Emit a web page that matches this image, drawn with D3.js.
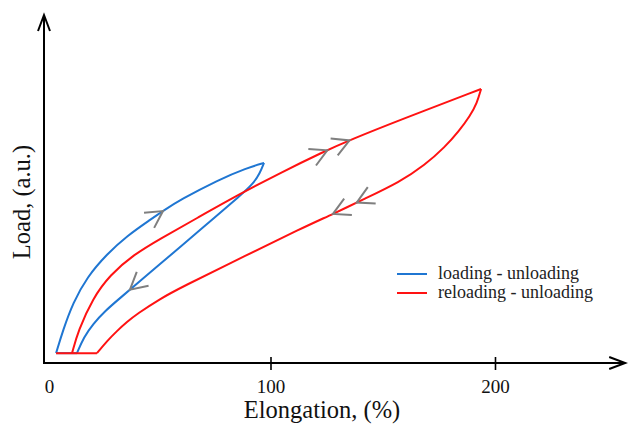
<!DOCTYPE html>
<meta charset="utf-8">
<style>

body {
  margin: 0;
  background: #fff;
}

svg {
  display: block;
}

.axis-line,
.axis-head {
  fill: none;
  stroke: #000;
  stroke-width: 2;
}

.x.axis path {
  display: none;
}

.x.axis line {
  stroke: #000;
  stroke-width: 1.6;
}

.x.axis text {
  font-family: "Liberation Serif", serif;
  font-size: 19px;
  fill: #111;
}

.title {
  font-family: "Liberation Serif", serif;
  font-size: 24.5px;
  fill: #111;
}

.legend text {
  font-family: "Liberation Serif", serif;
  font-size: 18px;
  fill: #222;
}

.curve {
  fill: none;
  stroke-width: 2;
  stroke-linejoin: round;
}

.arrow {
  fill: none;
  stroke: #7f7f7f;
  stroke-width: 2;
}

</style>
<body>
<script src="https://d3js.org/d3.v7.min.js"></script>
<script>

// elongation (%) , load (a.u.)
var blueLoading = [[4.5, 3.6], [7.6, 12.0], [12.0, 21.9], [18.3, 31.4], [27.2, 39.8], [36.1, 46.4],
  [46.3, 52.2], [52.1, 55.5], [59.7, 59.5], [76.6, 66.8], [89.5, 71.2], [97.1, 73.0]];
var blueUnloading = [[97.1, 73.0], [95.3, 69.3], [92.2, 65.3], [86.4, 61.0], [74.4, 52.6], [59.7, 42.3],
  [50.8, 36.1], [41.9, 29.9], [33.0, 23.7], [26.3, 19.0], [20.9, 14.2], [16.9, 9.5], [13.8, 3.6]];
var blueBase = [[13.8, 3.6], [4.5, 3.6]];

var redReloading = [[11.6, 3.6], [14.3, 11.7], [20.9, 23.7], [28.5, 32.1], [38.8, 39.4], [50.8, 45.3],
  [67.3, 52.9], [86.4, 61.7], [104.2, 69.3], [123.4, 77.0], [135.4, 81.4], [157.7, 88.7], [193.8, 100]];
var redUnloading = [[193.8, 100], [192.0, 94.9], [188.9, 90.2], [184.0, 84.7], [177.7, 78.8], [168.8, 72.3],
  [157.7, 66.1], [140.8, 59.5], [128.7, 54.7], [113.1, 48.9], [89.5, 39.4], [59.7, 27.4], [50.8, 23.4],
  [40.5, 17.9], [36.1, 15.0], [31.6, 11.7], [27.2, 8.0], [22.7, 3.6]];
var redBase = [[4.5, 3.6], [22.7, 3.6]];

// where the grey direction arrows sit (elongation of the tip)
var blueLoadArrows = [52.1];
var blueUnloadArrows = [37.4];
var redLoadArrows = [125.3, 135.2];
var redUnloadArrows = [138.4, 127.8];

var xTicks = [0, 100, 200];
var seriesNames = ["loading - unloading", "reloading - unloading"];
var seriesColors = ["#1f76d2", "#ff1212"];

var width = 628, height = 424;

var svg = d3.select("body").append("svg")
    .attr("width", width)
    .attr("height", height);

var x = d3.scaleLinear().domain([0, 258]).range([46, 625.2]);
var y = d3.scaleLinear().domain([0, 127]).range([363, 15]);

// axes with open arrow heads
var x0 = x(0) - 2, yBase = y(0), xEnd = x.range()[1], yTop = y.range()[1];
svg.append("path")
    .attr("class", "axis-line")
    .attr("d", "M" + x0 + "," + yTop + "V" + yBase + "H" + xEnd);
svg.append("path")
    .attr("class", "axis-head")
    .attr("d", "M" + (x0 - 6) + "," + (yTop + 16) + "L" + x0 + "," + yTop + "L" + (x0 + 6) + "," + (yTop + 16));
svg.append("path")
    .attr("class", "axis-head")
    .attr("d", "M" + (xEnd - 16) + "," + (yBase - 6) + "L" + xEnd + "," + yBase + "L" + (xEnd - 16) + "," + (yBase + 6));

var xAxis = d3.axisBottom(x)
    .tickValues(xTicks)
    .tickSizeInner(7)
    .tickSizeOuter(0)
    .tickPadding(10)
    .tickFormat(d3.format("d"));

var gx = svg.append("g")
    .attr("class", "x axis")
    .attr("transform", "translate(0," + yBase + ")")
    .call(xAxis);

gx.selectAll(".tick line")
    .attr("y1", -6)
    .attr("y2", 7)
    .style("display", function(d) { return d === 0 ? "none" : null; });
gx.selectAll(".tick text")
    .attr("dx", function(d) { return d === 0 ? 3 : 0; });

svg.append("text")
    .attr("class", "title")
    .attr("x", 322)
    .attr("y", 418)
    .style("text-anchor", "middle")
    .text("Elongation, (%)");

svg.append("text")
    .attr("class", "title")
    .attr("transform", "translate(30,202) rotate(-90)")
    .style("text-anchor", "middle")
    .text("Load, (a.u.)");

// curves (basis spline smooths out the reading noise)
var line = d3.line()
    .x(function(d) { return x(d[0]); })
    .y(function(d) { return y(d[1]); })
    .curve(d3.curveBasis);

function drawCurve(data, color) {
  return svg.append("path")
      .datum(data)
      .attr("class", "curve")
      .attr("stroke", color)
      .attr("d", line);
}

var bLoad = drawCurve(blueLoading, seriesColors[0]);
var bUnload = drawCurve(blueUnloading, seriesColors[0]);
drawCurve(blueBase, seriesColors[0]);
var rLoad = drawCurve(redReloading, seriesColors[1]);
var rUnload = drawCurve(redUnloading, seriesColors[1]);
drawCurve(redBase, seriesColors[1]);

// find the point of a path at a given elongation, then draw a chevron along it
function lengthAtX(node, px) {
  var total = node.getTotalLength();
  var inc = node.getPointAtLength(total).x > node.getPointAtLength(0).x;
  var lo = 0, hi = total;
  for (var i = 0; i < 40; i++) {
    var mid = (lo + hi) / 2;
    var p = node.getPointAtLength(mid);
    if ((p.x < px) === inc) lo = mid; else hi = mid;
  }
  return (lo + hi) / 2;
}

function drawArrows(pathSel, list) {
  var node = pathSel.node();
  list.forEach(function(e) {
    var l = lengthAtX(node, x(e));
    var tip = node.getPointAtLength(l);
    var a = node.getPointAtLength(Math.max(0, l - 2));
    var b = node.getPointAtLength(l + 2);
    var ang = Math.atan2(b.y - a.y, b.x - a.x) + Math.PI;
    var len = 19, spread = 0.5;
    var p1 = [tip.x + len * Math.cos(ang - spread), tip.y + len * Math.sin(ang - spread)];
    var p2 = [tip.x + len * Math.cos(ang + spread), tip.y + len * Math.sin(ang + spread)];
    svg.append("path")
        .attr("class", "arrow")
        .attr("d", "M" + p1 + "L" + tip.x + "," + tip.y + "L" + p2);
  });
}

drawArrows(bLoad, blueLoadArrows);
drawArrows(bUnload, blueUnloadArrows);
drawArrows(rLoad, redLoadArrows);
drawArrows(rUnload, redUnloadArrows);

// legend
var legend = svg.selectAll(".legend")
    .data(seriesNames)
  .enter().append("g")
    .attr("class", "legend")
    .attr("transform", function(d, i) { return "translate(397," + (274 + i * 19) + ")"; });

legend.append("line")
    .attr("x1", 0)
    .attr("x2", 30)
    .attr("stroke", function(d, i) { return seriesColors[i]; })
    .attr("stroke-width", 2);

legend.append("text")
    .attr("x", 41)
    .attr("y", 5)
    .text(function(d) { return d; });

</script>
